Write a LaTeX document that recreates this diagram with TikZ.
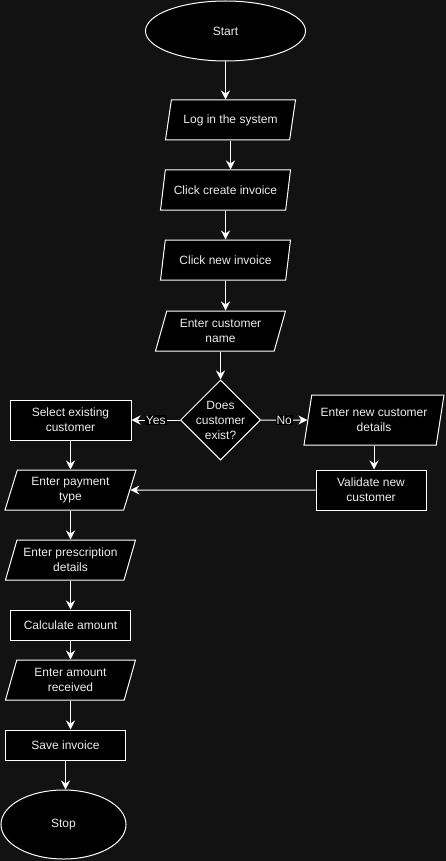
\documentclass[tikz,border=0pt]{standalone}
\usepackage{fontspec}
\setmainfont{Liberation Sans}
\usetikzlibrary{arrows.meta,shapes.geometric}
\definecolor{bg}{RGB}{18,18,18}
\definecolor{ink}{RGB}{236,236,236}
\tikzset{
  box/.style={draw=white,fill=black,text=ink,line width=1pt,inner sep=1pt,align=center,
    font=\fontsize{12}{15}\selectfont},
  term/.style={box,ellipse},
  proc/.style={box,rectangle,minimum width=120pt,minimum height=40pt},
  io/.style={box,trapezium,trapezium left angle=66,trapezium right angle=114,
    trapezium stretches body,minimum width=130pt,minimum height=40pt},
  decide/.style={box,diamond,minimum width=80pt,minimum height=80pt,inner sep=-3pt},
  flow/.style={draw=white,line width=1pt,-{Stealth[length=9pt,width=9pt,inset=3pt]}},
  tag/.style={fill=black,text=ink,inner sep=1pt,font=\fontsize{12}{14}\selectfont}
}
\begin{document}
\begin{tikzpicture}[x=1pt,y=-1pt]
  \useasboundingbox[fill=bg] (0,0) rectangle (446,861);
  % main column
  \node[term,minimum width=160pt,minimum height=60pt] (start) at (225.5,31) {Start};
  \node[io] (login) at (230.5,120) {Log in the system};
  \node[io] (create) at (225.5,190) {Click create invoice};
  \node[io] (newinv) at (225.5,260) {Click new invoice};
  \node[io] (custname) at (220.5,331) {Enter customer\\name};
  \node[decide] (exists) at (220.5,420) {Does\\customer\\exist?};
  % branches
  \node[proc,minimum width=121pt] (select) at (70.5,420) {Select existing\\customer};
  \node[io,trapezium left angle=73,trapezium right angle=107,minimum width=140pt,minimum height=50pt] (newcust) at (374,420) {Enter new customer\\details};
  \node[proc,minimum width=110pt] (validate) at (371,490) {Validate new\\customer};
  % left column
  \node[io,minimum width=131pt] (payment) at (70.5,490) {Enter payment\\type};
  \node[io] (presc) at (70.5,560) {Enter prescription\\details};
  \node[proc,minimum height=30pt] (calc) at (70.5,625) {Calculate amount};
  \node[io] (amount) at (70.5,680) {Enter amount\\received};
  \node[proc,minimum height=30pt] (save) at (65.5,745) {Save invoice};
  \node[term,minimum width=125pt,minimum height=69pt] (stop) at (63.5,824.5) {Stop};
  % connectors
  \foreach \a/\b in {start/login,login/create,create/newinv,newinv/custname,custname/exists,
    newcust/validate,select/payment,payment/presc,presc/calc,calc/amount,amount/save,save/stop}
    \draw[flow] (\a.south) -- (\a.south |- \b.north);
  \draw[flow] (exists.west) -- node[tag]{Yes} (select.east);
  \draw[flow] (exists.east) -- node[tag]{No} (newcust.west);
  \draw[flow] (validate.west) -- (payment.east);
\end{tikzpicture}
\end{document}
